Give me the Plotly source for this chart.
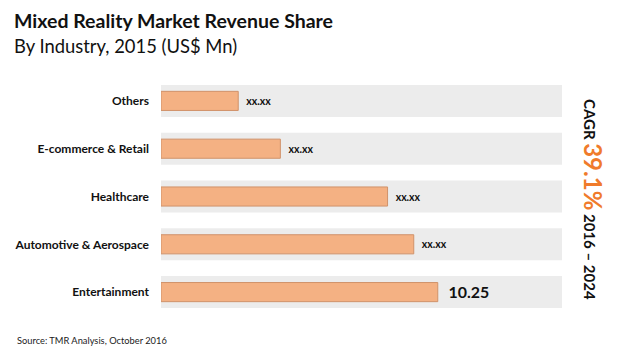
import plotly.graph_objects as go

categories = ["Entertainment", "Automotive & Aerospace", "Healthcare", "E-commerce & Retail", "Others"]
values = [10.25, 9.36, 8.39, 4.42, 2.86]
labels = ["10.25", "xx.xx", "xx.xx", "xx.xx", "xx.xx"]
label_sizes = [17.5, 10.5, 10.5, 10.5, 10.5]
band_max = 14.85

W, H = 620, 355
ML, MR, MT, MB = 161, 58, 77, 39
PW, PH = W - ML - MR, H - MT - MB


def px_x(x):
    return (x - ML) / PW


def px_y(y):
    return ((H - y) - MB) / PH


fig = go.Figure()
fig.add_trace(go.Bar(
    y=categories, x=[band_max] * len(categories), orientation="h",
    width=0.67, marker=dict(color="#ececec", line=dict(width=0)),
    hoverinfo="skip", showlegend=False))
fig.add_trace(go.Bar(
    y=categories, x=values, orientation="h", width=0.4,
    marker=dict(color="#f4b183", line=dict(color="#d0926a", width=1)),
    text=["&nbsp;&nbsp;" + t for t in labels], textposition="outside", cliponaxis=False,
    textfont=dict(family="Lato, sans-serif", color="#111111", size=label_sizes, weight="bold"),
    showlegend=False))

base = dict(xref="paper", yref="paper", showarrow=False, xanchor="left", yanchor="middle")
annotations = [
    dict(base, text="<b>Mixed Reality Market Revenue Share</b>", x=px_x(12), y=px_y(20),
         font=dict(size=19.5, color="#111111", family="Lato, sans-serif")),
    dict(base, text="By Industry, 2015 (US$ Mn)", x=px_x(12), y=px_y(46),
         font=dict(size=18.4, color="#111111", family="Lato, sans-serif")),
    dict(base, text="Source: TMR Analysis, October 2016", x=px_x(15), y=px_y(340),
         font=dict(size=9.3, color="#222222", family="Lato, sans-serif")),
    dict(xref="paper", yref="paper", showarrow=False, textangle=90,
         xanchor="center", yanchor="middle", x=px_x(594), y=px_y(199),
         text="<b>CAGR <span style='color:#f07b2b;font-size:24px'>39.1%</span> 2016 – 2024</b>",
         font=dict(size=15, color="#111111", family="Lato, sans-serif")),
]

fig.update_layout(
    width=W, height=H, barmode="overlay",
    margin=dict(l=ML, r=MR, t=MT, b=MB),
    paper_bgcolor="white", plot_bgcolor="white",
    font=dict(family="Lato, sans-serif", color="#111111"),
    xaxis=dict(range=[0, band_max], visible=False, fixedrange=True),
    yaxis=dict(categoryorder="array", categoryarray=categories, showgrid=False,
               zeroline=False, showline=False, ticks="", ticklabelstandoff=11,
               tickfont=dict(size=12, weight="bold", color="#111111", family="Lato, sans-serif")),
    annotations=annotations,
)

fig.write_html("out.html", config={"displayModeBar": False},
               post_script="document.body.style.margin='0';document.body.style.overflow='hidden';")
